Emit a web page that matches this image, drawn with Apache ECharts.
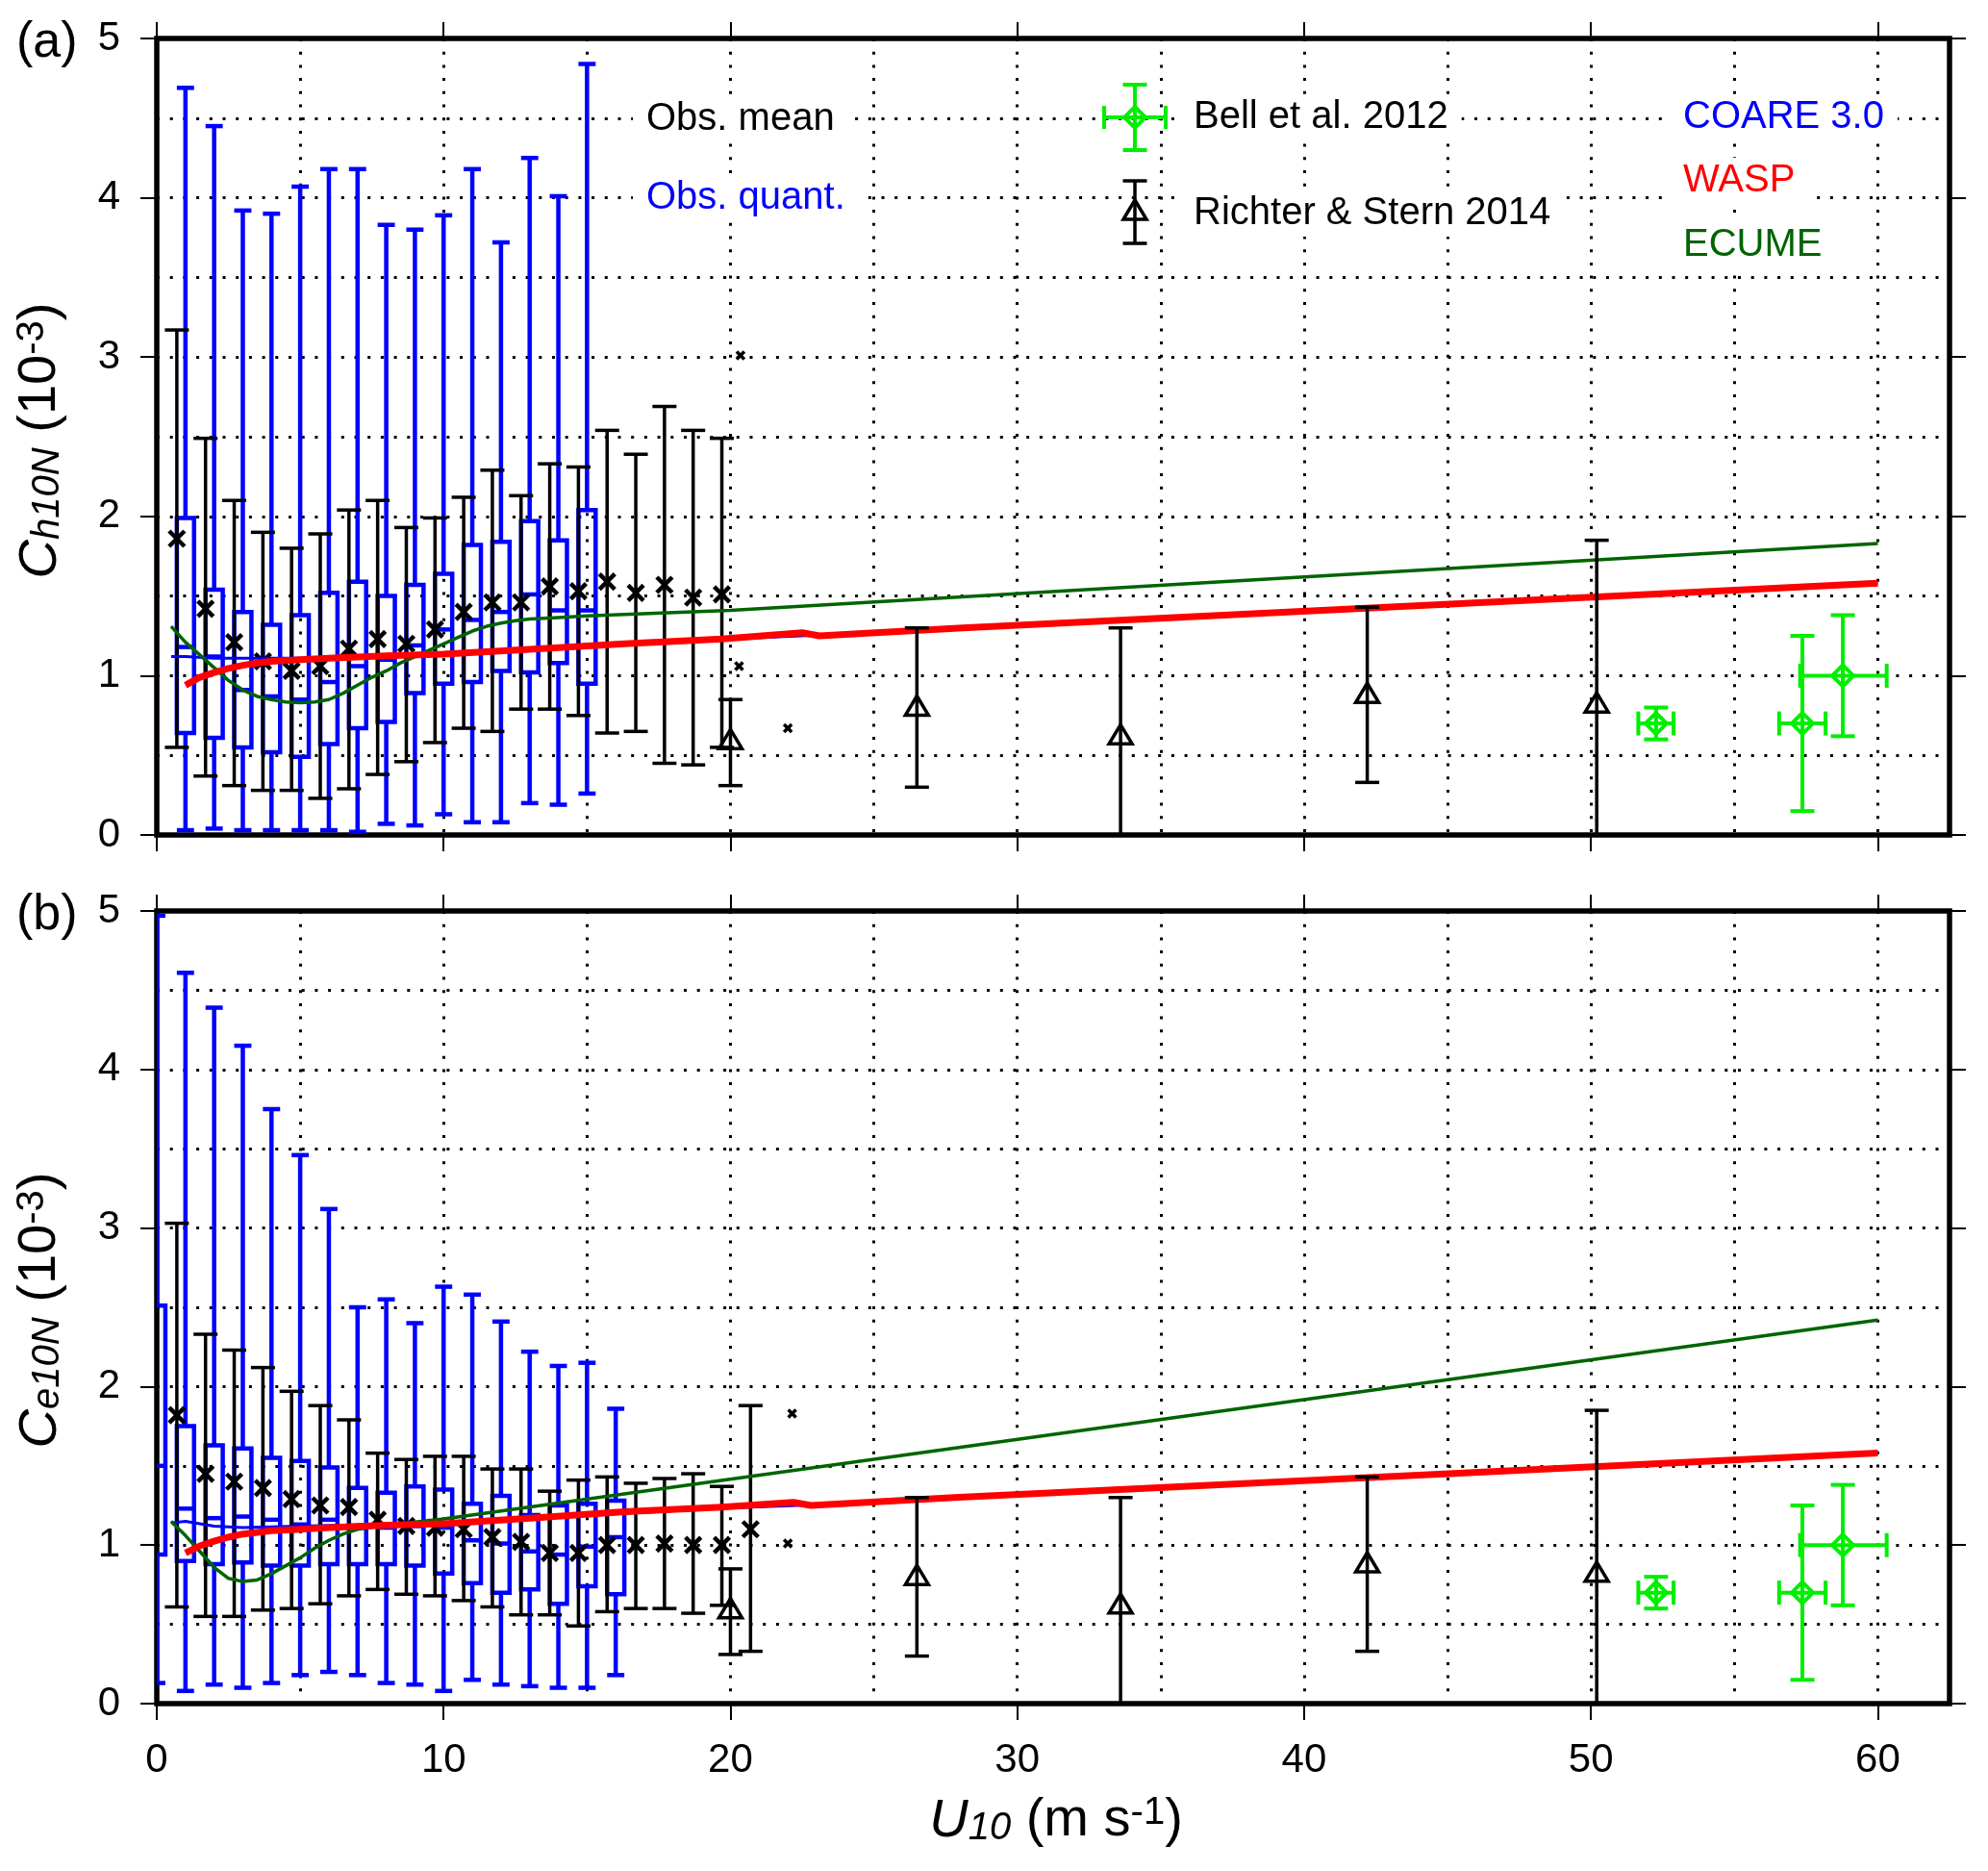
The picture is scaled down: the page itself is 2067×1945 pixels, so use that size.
<!DOCTYPE html>
<html>
<head>
<meta charset="utf-8">
<script src="https://cdn.jsdelivr.net/npm/echarts@6/dist/echarts.min.js"></script>
<style>
html,body{margin:0;padding:0;background:#ffffff;}
#chart{width:2067px;height:1945px;}
</style>
</head>
<body>
<div id="chart"></div>
<script>
// ================= DATA =================
const xTickValues = [0, 10, 20, 30, 40, 50, 60];
const yTickValues = [0, 1, 2, 3, 4, 5];

// Panel (a): C_h10N  -- observed quantile boxes [U10, low whisker, q1, median, q3, high whisker]
const quantA = [
  [1, 0.03, 0.64, 1.18, 1.99, 4.69],
  [2, 0.04, 0.61, 1.12, 1.54, 4.45],
  [3, 0.03, 0.55, 0.91, 1.40, 3.92],
  [4, 0.03, 0.52, 0.87, 1.32, 3.90],
  [5, 0.03, 0.49, 0.85, 1.38, 4.07],
  [6, 0.03, 0.57, 0.96, 1.52, 4.18],
  [7, 0.02, 0.67, 1.06, 1.59, 4.18],
  [8, 0.07, 0.71, 1.10, 1.50, 3.83],
  [9, 0.06, 0.89, 1.19, 1.57, 3.80],
  [10, 0.13, 0.95, 1.29, 1.64, 3.89],
  [11, 0.08, 0.96, 1.35, 1.82, 4.18],
  [12, 0.08, 1.03, 1.40, 1.84, 3.72],
  [13, 0.20, 1.02, 1.51, 1.97, 4.25],
  [14, 0.19, 1.08, 1.41, 1.85, 4.01],
  [15, 0.26, 0.95, 1.41, 2.04, 4.84]
];
// Panel (a): observed mean with error bar [U10, low, mean, high]
const meanA = [
  [0.7, 0.55, 1.86, 3.17],
  [1.7, 0.37, 1.42, 2.49],
  [2.7, 0.31, 1.21, 2.10],
  [3.7, 0.28, 1.09, 1.90],
  [4.7, 0.28, 1.03, 1.80],
  [5.7, 0.23, 1.06, 1.89],
  [6.7, 0.29, 1.17, 2.04],
  [7.7, 0.38, 1.23, 2.10],
  [8.7, 0.46, 1.20, 1.93],
  [9.7, 0.58, 1.29, 1.99],
  [10.7, 0.67, 1.40, 2.12],
  [11.7, 0.65, 1.46, 2.29],
  [12.7, 0.79, 1.46, 2.13],
  [13.7, 0.79, 1.56, 2.33],
  [14.7, 0.75, 1.53, 2.31],
  [15.7, 0.64, 1.59, 2.54],
  [16.7, 0.65, 1.52, 2.39],
  [17.7, 0.45, 1.57, 2.69],
  [18.7, 0.44, 1.49, 2.54],
  [19.7, 0.55, 1.51, 2.49]
];
const sparseA = [[20.35, 3.01], [20.3, 1.06], [22.0, 0.67]];
const coareA = [[0.5,1.12],[1,1.12],[2,1.11],[3,1.11],[4,1.11],[5,1.11],[10,1.13],[13,1.17],[16.3,1.20],[20,1.23],[23,1.255],[28,1.295],[60,1.58]];
const waspA  = [[1.0,0.94],[1.5,0.99],[2.0,1.02],[2.5,1.045],[3.0,1.065],[3.5,1.08],[4.0,1.09],[5,1.10],[6,1.11],[8,1.125],[10,1.135],[13,1.165],[16.3,1.20],[19.7,1.23],[22.5,1.27],[23.1,1.25],[28.1,1.30],[60,1.58]];
const ecumeA = [[0.5,1.31],[1.0,1.21],[1.5,1.13],[2.0,1.05],[2.5,0.97],[3.0,0.91],[3.5,0.87],[4.0,0.85],[4.5,0.835],[5.0,0.83],[5.5,0.835],[6.0,0.85],[6.5,0.89],[7.0,0.94],[7.5,0.99],[8.0,1.03],[8.5,1.08],[9.0,1.12],[9.5,1.16],[10,1.20],[10.5,1.24],[11,1.28],[11.5,1.31],[12,1.33],[12.5,1.345],[13,1.355],[14,1.365],[15,1.375],[16.3,1.385],[20,1.41],[60,1.83]];

// Panel (b): C_e10N
const quantB = [
  [0, 0.13, 0.94, 1.50, 2.51, 4.97],
  [1, 0.08, 0.90, 1.23, 1.75, 4.61],
  [2, 0.12, 0.88, 1.17, 1.63, 4.39],
  [3, 0.10, 0.89, 1.18, 1.61, 4.15],
  [4, 0.13, 0.87, 1.16, 1.55, 3.75],
  [5, 0.18, 0.87, 1.13, 1.53, 3.46],
  [6, 0.20, 0.88, 1.16, 1.49, 3.12],
  [7, 0.18, 0.88, 1.11, 1.36, 2.50],
  [8, 0.13, 0.88, 1.11, 1.33, 2.55],
  [9, 0.12, 0.87, 1.12, 1.37, 2.40],
  [10, 0.08, 0.82, 1.11, 1.35, 2.63],
  [11, 0.15, 0.76, 1.03, 1.26, 2.58],
  [12, 0.12, 0.70, 1.01, 1.31, 2.41],
  [13, 0.11, 0.72, 0.96, 1.19, 2.22],
  [14, 0.10, 0.63, 0.94, 1.25, 2.13],
  [15, 0.10, 0.74, 0.99, 1.26, 2.15],
  [16, 0.18, 0.69, 1.05, 1.28, 1.86]
];
const meanB = [
  [0.7, 0.61, 1.82, 3.03],
  [1.7, 0.55, 1.45, 2.33],
  [2.7, 0.55, 1.40, 2.23],
  [3.7, 0.59, 1.36, 2.12],
  [4.7, 0.60, 1.29, 1.97],
  [5.7, 0.63, 1.25, 1.88],
  [6.7, 0.68, 1.24, 1.79],
  [7.7, 0.72, 1.16, 1.58],
  [8.7, 0.69, 1.12, 1.54],
  [9.7, 0.68, 1.11, 1.56],
  [10.7, 0.65, 1.10, 1.56],
  [11.7, 0.61, 1.05, 1.48],
  [12.7, 0.56, 1.02, 1.48],
  [13.7, 0.56, 0.95, 1.34],
  [14.7, 0.49, 0.95, 1.41],
  [15.7, 0.58, 1.00, 1.43],
  [16.7, 0.60, 1.00, 1.39],
  [17.7, 0.60, 1.01, 1.42],
  [18.7, 0.57, 1.00, 1.45],
  [19.7, 0.62, 1.00, 1.37],
  [20.7, 0.33, 1.10, 1.88]
];
const sparseB = [[22.15, 1.83], [22.0, 1.01]];
const coareB = [[0.5,1.14],[1,1.15],[2,1.12],[3,1.11],[5,1.12],[10,1.14],[16.3,1.20],[20,1.235],[23,1.255],[28,1.295],[60,1.58]];
const waspB  = [[1.0,0.95],[1.5,0.995],[2.0,1.025],[2.5,1.05],[3.0,1.07],[3.5,1.08],[4.0,1.09],[5,1.10],[6,1.11],[8,1.125],[10,1.135],[13,1.17],[16.3,1.21],[19.7,1.24],[22.2,1.27],[22.8,1.25],[27.8,1.30],[60,1.58]];
const ecumeB = [[0.5,1.15],[1.0,1.06],[1.5,0.96],[2.0,0.86],[2.5,0.79],[3.0,0.77],[3.5,0.78],[4.0,0.82],[4.5,0.87],[5.0,0.92],[5.5,0.98],[6.0,1.03],[6.5,1.07],[7.0,1.10],[8.0,1.125],[9,1.145],[10,1.165],[11.4,1.20],[60,2.42]];

// Both panels: Richter & Stern 2014 [U10, low, value, high]
const richter = [
  [20.0, 0.31, 0.59, 0.85],
  [26.5, 0.30, 0.80, 1.30],
  [33.6, 0.00, 0.62, 1.30],
  [42.2, 0.33, 0.88, 1.43],
  [50.2, 0.00, 0.82, 1.85]
];
// Both panels: Bell et al. 2012 [U10, U10 low, U10 high, value, low, high]
const bell = [
  [52.27, 51.65, 52.88, 0.70, 0.60, 0.80],
  [57.37, 56.56, 58.18, 0.70, 0.15, 1.25],
  [58.78, 57.29, 60.31, 1.00, 0.62, 1.38]
];

// ================= STYLE =================
const FONT = "'Liberation Sans', Arial, Helvetica, sans-serif";
const BLUE = '#0000ff', RED = '#ff0000', DKGREEN = '#006400', LIME = '#00ee00', BLACK = '#000000';
const DOT = { color: BLACK, width: 3, type: [3, 10.7], cap: 'butt' };

function seg(x1, y1, x2, y2, style) {
  return { type: 'line', shape: { x1: x1, y1: y1, x2: x2, y2: y2 }, style: style };
}

function renderBox(params, api) {
  const x = api.value(0);
  const lo = api.coord([x, api.value(1)]);
  const q1 = api.coord([x, api.value(2)]);
  const md = api.coord([x, api.value(3)]);
  const q3 = api.coord([x, api.value(4)]);
  const hi = api.coord([x, api.value(5)]);
  const hw = api.size([0.6, 0])[0] / 2;
  const cx = lo[0];
  const st = { stroke: BLUE, lineWidth: 4.5, fill: 'none' };
  return {
    type: 'group',
    children: [
      seg(cx, hi[1], cx, q3[1], st),
      seg(cx, q1[1], cx, lo[1], st),
      seg(cx - hw, hi[1], cx + hw, hi[1], st),
      seg(cx - hw, lo[1], cx + hw, lo[1], st),
      { type: 'rect', shape: { x: cx - hw, y: q3[1], width: 2 * hw, height: q1[1] - q3[1] }, style: st },
      seg(cx - hw, md[1], cx + hw, md[1], st)
    ]
  };
}

function renderMean(params, api) {
  const x = api.value(0);
  const lo = api.coord([x, api.value(1)]);
  const m = api.coord([x, api.value(2)]);
  const hi = api.coord([x, api.value(3)]);
  const cx = m[0], cw = 12.5, s = 8;
  const st = { stroke: BLACK, lineWidth: 3.5, fill: 'none' };
  const sx = { stroke: BLACK, lineWidth: 4.5, fill: 'none' };
  return {
    type: 'group',
    children: [
      seg(cx, lo[1], cx, hi[1], st),
      seg(cx - cw, lo[1], cx + cw, lo[1], st),
      seg(cx - cw, hi[1], cx + cw, hi[1], st),
      seg(cx - s, m[1] - s, cx + s, m[1] + s, sx),
      seg(cx - s, m[1] + s, cx + s, m[1] - s, sx)
    ]
  };
}

function renderSparse(params, api) {
  const p = api.coord([api.value(0), api.value(1)]);
  const s = 4;
  const st = { stroke: BLACK, lineWidth: 3.5, fill: 'none' };
  return {
    type: 'group',
    children: [
      seg(p[0] - s, p[1] - s, p[0] + s, p[1] + s, st),
      seg(p[0] - s, p[1] + s, p[0] + s, p[1] - s, st)
    ]
  };
}

function renderRichter(params, api) {
  const x = api.value(0);
  const lo = api.coord([x, api.value(1)]);
  const m = api.coord([x, api.value(2)]);
  const hi = api.coord([x, api.value(3)]);
  const cx = m[0], cw = 12.5;
  const st = { stroke: BLACK, lineWidth: 3.5, fill: 'none' };
  return {
    type: 'group',
    children: [
      seg(cx, lo[1], cx, hi[1], st),
      seg(cx - cw, lo[1], cx + cw, lo[1], st),
      seg(cx - cw, hi[1], cx + cw, hi[1], st),
      { type: 'polygon', shape: { points: [[cx, m[1] - 12], [cx + 12, m[1] + 8], [cx - 12, m[1] + 8]] }, style: { stroke: BLACK, lineWidth: 3.5, fill: 'none' } }
    ]
  };
}

function renderBell(params, api) {
  const c = api.coord([api.value(0), api.value(3)]);
  const xl = api.coord([api.value(1), api.value(3)]);
  const xr = api.coord([api.value(2), api.value(3)]);
  const yl = api.coord([api.value(0), api.value(4)]);
  const yh = api.coord([api.value(0), api.value(5)]);
  const cw = 12.5, d = 11;
  const st = { stroke: LIME, lineWidth: 4, fill: 'none' };
  return {
    type: 'group',
    children: [
      seg(xl[0], c[1], xr[0], c[1], st),
      seg(xl[0], c[1] - cw, xl[0], c[1] + cw, st),
      seg(xr[0], c[1] - cw, xr[0], c[1] + cw, st),
      seg(c[0], yl[1], c[0], yh[1], st),
      seg(c[0] - cw, yl[1], c[0] + cw, yl[1], st),
      seg(c[0] - cw, yh[1], c[0] + cw, yh[1], st),
      { type: 'polygon', shape: { points: [[c[0], c[1] - d], [c[0] + d, c[1]], [c[0], c[1] + d], [c[0] - d, c[1]]] }, style: st }
    ]
  };
}

// ================= AXES =================
const grids = [
  { left: 163, top: 40, width: 1864, height: 828 },
  { left: 163, top: 947, width: 1864, height: 824 }
];
const tickStyle = { show: true, inside: false, length: 17, lineStyle: { color: BLACK, width: 2 } };
const labelStyle = { color: BLACK, fontSize: 42, fontFamily: FONT, margin: 38 };

function xAxesFor(gi, showLabels) {
  const base = { type: 'value', gridIndex: gi, min: 0, max: 62.5 };
  const noLine = { show: false, onZero: false };
  const tenFmt = function (v) { return (Math.abs(v % 10) < 1e-9 && v <= 60) ? String(v) : ''; };
  return [
    Object.assign({}, base, { position: 'bottom', interval: 5, axisLine: noLine, axisTick: { show: false }, axisLabel: { show: false }, splitLine: { show: true, lineStyle: DOT } }),
    Object.assign({}, base, { position: 'bottom', interval: 10, axisLine: noLine,
      axisTick: Object.assign({}, tickStyle, { customValues: xTickValues }),
      axisLabel: Object.assign({}, labelStyle, { show: showLabels, customValues: xTickValues, formatter: tenFmt }),
      splitLine: { show: false } }),
    Object.assign({}, base, { position: 'top', interval: 10, axisLine: noLine,
      axisTick: Object.assign({}, tickStyle, { customValues: xTickValues }),
      axisLabel: { show: false }, splitLine: { show: false } })
  ];
}
function yAxesFor(gi) {
  const base = { type: 'value', gridIndex: gi, min: 0, max: 5 };
  const noLine = { show: false, onZero: false };
  return [
    Object.assign({}, base, { position: 'left', interval: 0.5, axisLine: noLine, axisTick: { show: false }, axisLabel: { show: false }, splitLine: { show: true, lineStyle: DOT } }),
    Object.assign({}, base, { position: 'left', interval: 1, axisLine: noLine,
      axisTick: Object.assign({}, tickStyle, { customValues: yTickValues }),
      axisLabel: Object.assign({}, labelStyle, { customValues: yTickValues }),
      splitLine: { show: false } }),
    Object.assign({}, base, { position: 'right', interval: 1, axisLine: noLine,
      axisTick: Object.assign({}, tickStyle, { customValues: yTickValues }),
      axisLabel: { show: false }, splitLine: { show: false } })
  ];
}

// ================= SERIES =================
function panelSeries(gi, quant, mean, sparse, coare, wasp, ecume) {
  const ax = { xAxisIndex: gi * 3 + 1, yAxisIndex: gi * 3 + 1 };
  const lineBase = { type: 'line', showSymbol: false, symbol: 'none', smooth: false, clip: true, silent: true };
  return [
    Object.assign({ type: 'custom', name: 'Obs. quant.', data: quant, renderItem: renderBox, clip: true, z: 3, silent: true }, ax),
    Object.assign({ type: 'custom', name: 'Obs. mean', data: mean, renderItem: renderMean, clip: true, z: 4, silent: true }, ax),
    Object.assign({ type: 'custom', name: 'sparse', data: sparse, renderItem: renderSparse, clip: true, z: 4, silent: true }, ax),
    Object.assign({}, lineBase, ax, { name: 'COARE 3.0', data: coare, z: 5, lineStyle: { color: BLUE, width: 3 } }),
    Object.assign({}, lineBase, ax, { name: 'ECUME', data: ecume, z: 6, lineStyle: { color: DKGREEN, width: 3.5 } }),
    Object.assign({}, lineBase, ax, { name: 'WASP', data: wasp, z: 7, lineStyle: { color: RED, width: 7, join: 'round' } }),
    Object.assign({ type: 'custom', name: 'Richter & Stern 2014', data: richter, renderItem: renderRichter, clip: true, z: 8, silent: true }, ax),
    Object.assign({ type: 'custom', name: 'Bell et al. 2012', data: bell, renderItem: renderBell, clip: true, z: 9, silent: true }, ax)
  ];
}

// ================= TEXT / LEGEND =================
const richTitle = {
  i: { fontSize: 56, fontStyle: 'italic', fontFamily: FONT, lineHeight: 56, fill: BLACK },
  n: { fontSize: 56, fontFamily: FONT, lineHeight: 56, fill: BLACK },
  s: { fontSize: 40, fontStyle: 'italic', fontFamily: FONT, lineHeight: 20, verticalAlign: 'bottom', fill: BLACK },
  p: { fontSize: 40, fontFamily: FONT, lineHeight: 28, verticalAlign: 'top', fill: BLACK }
};
function titleText(x, y, rot, text) {
  return { type: 'text', x: x, y: y, rotation: rot, z: 100,
    style: { text: text, rich: richTitle, fill: BLACK, align: 'center', verticalAlign: 'middle', textAlign: 'center', textVerticalAlign: 'middle', fontFamily: FONT, fontSize: 56 } };
}
function plainText(x, y, text, color, size, bg) {
  const st = { text: text, fill: color, fontFamily: FONT, fontSize: size, align: 'left', verticalAlign: 'middle', textAlign: 'left', textVerticalAlign: 'middle' };
  if (bg) { st.backgroundColor = '#ffffff'; st.padding = [4, 14]; }
  return { type: 'text', x: bg ? x - 14 : x, y: y, z: 100, style: st };
}
function gseg(x1, y1, x2, y2, color, w) {
  return { type: 'line', z: 100, shape: { x1: x1, y1: y1, x2: x2, y2: y2 }, style: { stroke: color, lineWidth: w } };
}
const bx = 1180, by = 122, rx = 1180;
const graphics = [
  plainText(17, 45, '(a)', BLACK, 52, false),
  plainText(17, 952, '(b)', BLACK, 52, false),
  titleText(42, 458, Math.PI / 2, '{i|C}{s|h10N}{n| (10}{p|-3}{n|)}'),
  titleText(42, 1362, Math.PI / 2, '{i|C}{s|e10N}{n| (10}{p|-3}{n|)}'),
  titleText(1098, 1893, 0, '{i|U}{s|10}{n| (m s}{p|-1}{n|)}'),
  plainText(672, 124, 'Obs. mean', BLACK, 40, true),
  plainText(672, 206, 'Obs. quant.', BLUE, 40, true),
  plainText(1241, 122, 'Bell et al. 2012', BLACK, 40, true),
  plainText(1241, 222, 'Richter & Stern 2014', BLACK, 40, true),
  plainText(1750, 122, 'COARE 3.0', BLUE, 40, true),
  plainText(1750, 188, 'WASP', RED, 40, true),
  plainText(1750, 255, 'ECUME', DKGREEN, 40, true),
  // legend symbol: Bell
  gseg(bx - 32, by, bx + 32, by, LIME, 4),
  gseg(bx - 32, by - 12, bx - 32, by + 12, LIME, 4),
  gseg(bx + 32, by - 12, bx + 32, by + 12, LIME, 4),
  gseg(bx, by - 34, bx, by + 34, LIME, 4),
  gseg(bx - 12.5, by - 34, bx + 12.5, by - 34, LIME, 4),
  gseg(bx - 12.5, by + 34, bx + 12.5, by + 34, LIME, 4),
  { type: 'polygon', z: 100, shape: { points: [[bx, by - 11], [bx + 11, by], [bx, by + 11], [bx - 11, by]] }, style: { stroke: LIME, lineWidth: 4, fill: 'none' } },
  // legend symbol: Richter
  gseg(rx, 188, rx, 253, BLACK, 3.5),
  gseg(rx - 12.5, 188, rx + 12.5, 188, BLACK, 3.5),
  gseg(rx - 12.5, 253, rx + 12.5, 253, BLACK, 3.5),
  { type: 'polygon', z: 100, shape: { points: [[rx, 208], [rx + 12, 228], [rx - 12, 228]] }, style: { stroke: BLACK, lineWidth: 3.5, fill: 'none' } }
];

// ================= CHART =================
const chart = echarts.init(document.getElementById('chart'), null, { renderer: 'canvas' });
const option = {
  animation: false,
  backgroundColor: '#ffffff',
  textStyle: { fontFamily: FONT },
  grid: grids.map(function (g) {
    return Object.assign({ show: true, borderColor: BLACK, borderWidth: 5.5, backgroundColor: 'transparent', containLabel: false, outerBoundsMode: 'none' }, g);
  }),
  xAxis: xAxesFor(0, false).concat(xAxesFor(1, true)),
  yAxis: yAxesFor(0).concat(yAxesFor(1)),
  series: panelSeries(0, quantA, meanA, sparseA, coareA, waspA, ecumeA)
    .concat(panelSeries(1, quantB, meanB, sparseB, coareB, waspB, ecumeB)),
  graphic: { elements: graphics }
};
chart.setOption(option);
</script>
</body>
</html>
